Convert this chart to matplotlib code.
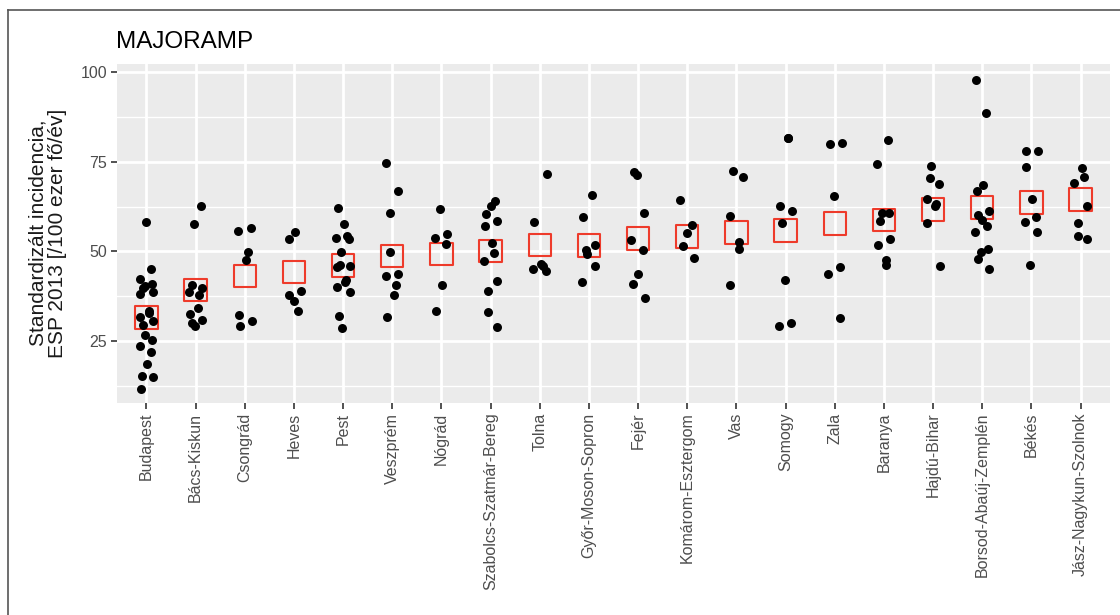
import numpy as np
import matplotlib.pyplot as plt
from matplotlib.lines import Line2D

plt.rcParams['font.family'] = ['Liberation Sans', 'DejaVu Sans']

# counties, ordered by county-level rate
counties = ["Budapest", "Bács-Kiskun", "Csongrád", "Heves", "Pest", "Veszprém",
            "Nógrád", "Szabolcs-Szatmár-Bereg", "Tolna", "Győr-Moson-Sopron",
            "Fejér", "Komárom-Esztergom", "Vas", "Somogy", "Zala", "Baranya",
            "Hajdú-Bihar", "Borsod-Abaúj-Zemplén", "Békés", "Jász-Nagykun-Szolnok"]

# county-level standardized incidence (red squares)
county_rate = [31.6, 39.2, 43.2, 44.2, 46.1, 48.7, 49.3, 50.2, 51.8, 51.6,
               53.6, 54.2, 55.3, 55.8, 57.8, 58.8, 61.7, 62.3, 63.6, 64.5]

# district-level values (black points)
budapest = [58.2, 45.0, 42.2, 41.0, 40.4, 39.7, 38.8, 38.0, 33.5, 32.8, 31.6,
            30.5, 29.6, 26.8, 25.4, 23.6, 21.8, 18.5, 15.3, 14.9, 11.7]
bacs_kiskun = [62.8, 57.6, 40.6, 39.7, 38.6, 37.8, 34.2, 32.5, 30.9, 29.9, 29.2]
csongrad = [56.4, 55.7, 49.8, 47.5, 32.3, 30.5, 29.1]
heves = [55.5, 53.6, 38.9, 37.9, 36.2, 33.3]
pest = [62.0, 57.6, 54.4, 53.7, 53.4, 49.8, 46.3, 45.8, 45.6, 42.0, 41.5,
        40.1, 38.8, 31.9, 28.6]
veszprem = [74.7, 66.8, 60.6, 49.8, 43.8, 43.1, 40.6, 37.8, 31.7]
nograd = [61.9, 54.8, 53.8, 52.0, 40.6, 33.3]
szabolcs = [64.0, 62.7, 60.5, 58.5, 57.1, 52.4, 49.6, 47.3, 41.7, 38.9, 33.0, 29.0]
tolna = [71.6, 58.2, 46.6, 45.8, 45.2, 44.4]
gyor = [65.8, 59.7, 51.8, 50.5, 49.3, 45.9, 41.5]
fejer = [72.3, 71.3, 60.8, 53.3, 50.5, 43.8, 40.8, 37.1]
komarom = [64.3, 57.3, 55.0, 51.6, 48.1]
vas = [72.5, 70.9, 59.9, 52.7, 50.7, 40.6]
somogy = [81.7, 81.7, 62.6, 61.2, 58.0, 42.0, 30.0, 29.1]
zala = [80.3, 80.1, 65.4, 45.6, 43.8, 31.4]
baranya = [81.0, 74.3, 60.8, 60.6, 58.5, 53.4, 51.8, 47.5, 46.3]
hajdu = [73.7, 70.4, 68.8, 64.7, 63.3, 62.8, 58.0, 45.9]
borsod = [97.7, 88.5, 68.6, 66.8, 61.2, 60.3, 58.9, 57.1, 55.3, 50.7, 49.8,
          47.9, 45.2]
bekes = [78.0, 78.0, 73.5, 64.5, 59.6, 58.2, 55.5, 46.3]
jasz = [73.2, 70.7, 69.2, 62.6, 57.9, 54.4, 53.6]

districts = [budapest, bacs_kiskun, csongrad, heves, pest, veszprem, nograd,
             szabolcs, tolna, gyor, fejer, komarom, vas, somogy, zala, baranya,
             hajdu, borsod, bekes, jasz]

W, H = 1120, 615
fig = plt.figure(figsize=(W / 100, H / 100), dpi=100)
ax = fig.add_axes([117 / W, 1 - 403 / H, (1110 - 117) / W, (403 - 64) / H])

ax.set_facecolor('#EBEBEB')
for s in ax.spines.values():
    s.set_visible(False)

x = np.arange(len(counties))

# grid lines in the ggplot style
for v in [12.5, 37.5, 62.5, 87.5]:
    ax.axhline(v, color='white', lw=1.0, zorder=0)
for v in [25, 50, 75, 100]:
    ax.axhline(v, color='white', lw=2.0, zorder=0)
for xi in x:
    ax.axvline(xi, color='white', lw=2.0, zorder=0)

ax.scatter(x, county_rate, marker='s', s=260, facecolors='none',
           edgecolors='#EE3B2B', linewidths=1.5, zorder=2)

# small deterministic horizontal spread, like geom_jitter
for i, vals in enumerate(districts):
    k = np.arange(len(vals))
    offs = 0.14 * np.sin(k * 2.4 + i)
    ax.scatter(i + offs, vals, s=42, color='black', linewidths=0, zorder=3)

ax.set_xlim(-0.6, len(counties) - 0.4)
ax.set_ylim(7.7, 102.3)
ax.set_yticks([25, 50, 75, 100])
ax.set_xticks(x)
ax.set_xticklabels(counties, rotation=90, va='top', ha='center')
ax.tick_params(axis='both', colors='#333333', labelcolor='#4D4D4D',
               labelsize=11.5, length=4, width=1.2, pad=3)

fig.text(48 / W, 1 - 233 / H, "Standardizált incidencia,\nESP 2013 [/100 ezer fő/év]",
         rotation=90, ha='center', va='center', fontsize=15, color='#1A1A1A',
         multialignment='center', linespacing=1.0)
fig.text(116 / W, 1 - 48 / H, "MAJORAMP", fontsize=17.5, color='black',
         va='baseline', ha='left')

# thin frame around the figure
fig.add_artist(Line2D([8 / W, 8 / W], [0, 1 - 10 / H], transform=fig.transFigure,
                      color='#555555', lw=1.2))
fig.add_artist(Line2D([8 / W, 1], [1 - 10 / H, 1 - 10 / H], transform=fig.transFigure,
                      color='#555555', lw=1.2))

fig.savefig('out.png', dpi=100)
